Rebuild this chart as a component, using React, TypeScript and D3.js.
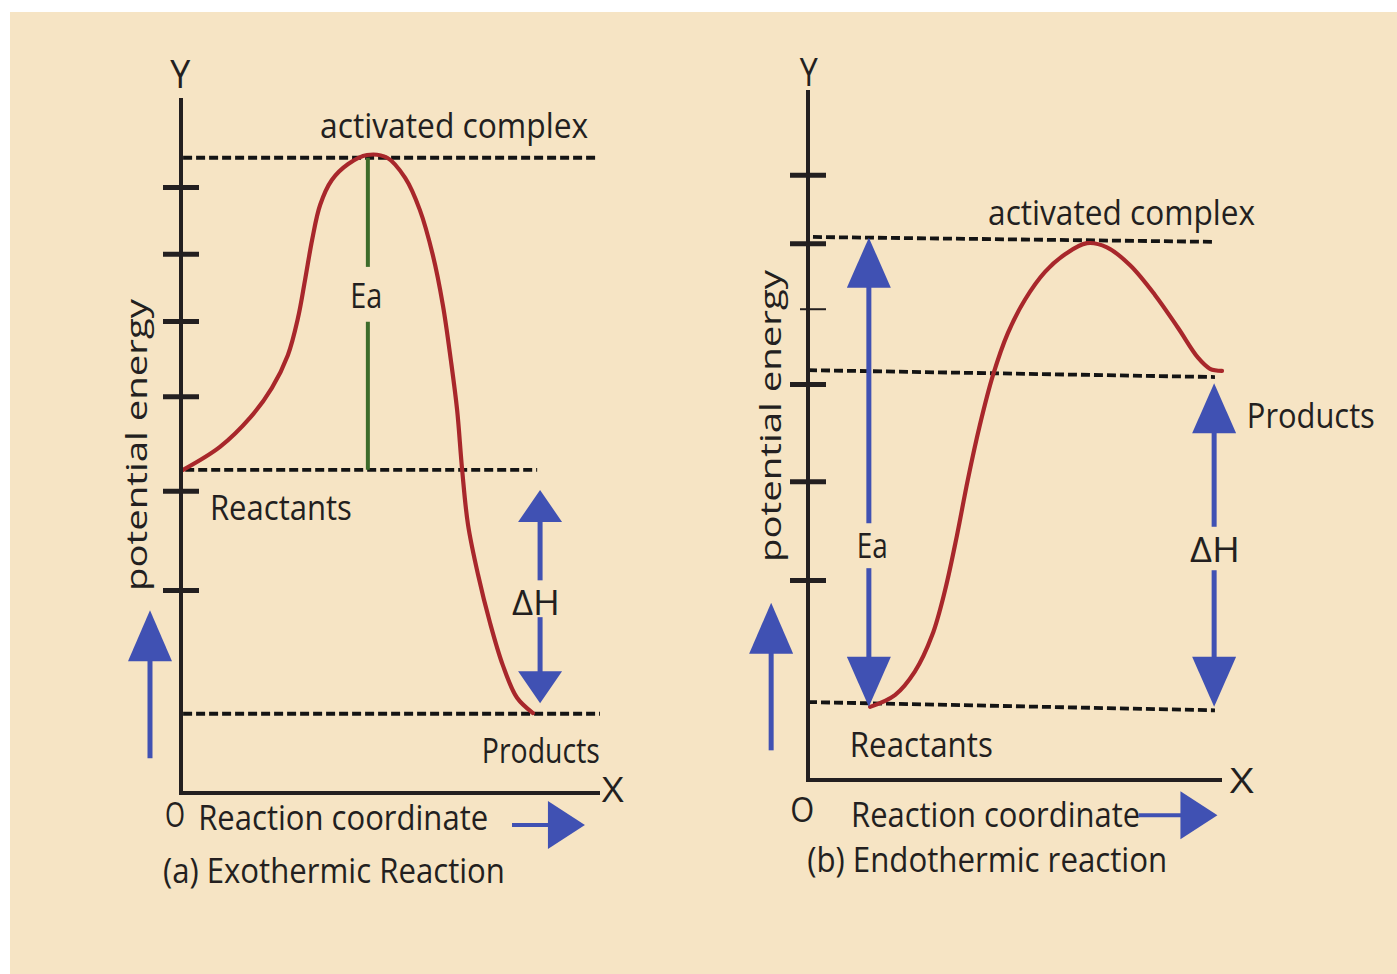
import React, { useRef, useEffect } from 'react';
import * as d3 from 'd3';

type Pt = [number, number];

// reaction coordinate (0-100) vs potential energy (0-100)
const exoCurve: Pt[] = [
  [0.5, 46.5], [9.3, 49.8], [16.5, 54.0], [21.7, 58.3], [25.5, 63.0], [27.9, 68.3],
  [29.6, 73.8], [31.3, 79.6], [33.2, 84.6], [36.0, 88.2], [39.9, 90.5], [44.4, 91.8],
  [49.2, 91.4], [53.5, 88.5], [57.0, 83.9], [60.1, 77.4], [62.5, 70.2], [64.4, 62.3],
  [65.9, 55.1], [67.1, 46.5], [68.5, 38.6], [70.9, 31.4], [73.7, 24.6], [76.8, 18.4],
  [80.2, 13.7], [84.0, 11.5],
];
const endoCurve: Pt[] = [
  [15.0, 10.6], [21.0, 12.3], [25.8, 15.7], [30.0, 21.0], [33.1, 27.5], [36.0, 35.5],
  [38.6, 43.5], [41.5, 51.4], [44.7, 58.7], [48.3, 64.8], [52.4, 69.6], [57.2, 73.6],
  [62.1, 76.2], [67.4, 77.8], [72.2, 77.2], [77.8, 74.6], [83.8, 70.3], [89.4, 65.5],
  [94.2, 61.2], [97.1, 59.6], [100, 59.3],
];

const exoTicks = [87.2, 77.6, 67.9, 57.1, 43.5, 29.2];
const endoTicks = [87.7, 77.8, 57.4, 43.3, 29.0];
const endoMinorTicks = [68.3];

// dashed energy levels: x start, x end, y start, y end
const exoLevels = [
  [0.5, 99.5, 91.4, 91.4], // activated complex
  [1, 85, 46.5, 46.5], // reactants
  [0.5, 100, 11.4, 11.4], // products
];
const endoLevels = [
  [1.2, 97.6, 78.7, 78.0],
  [0, 98.3, 59.4, 58.4],
  [0, 98.3, 11.3, 10.1],
];

// double headed arrows: x, top, bottom, gap top, gap bottom (label sits in the gap)
const exoArrows = [[85.7, 43.6, 12.9, 30.6, 25.3]];
const endoArrows = [
  [14.7, 78.6, 10.6, 37.2, 30.7],
  [98.1, 57.5, 10.6, 36.7, 30.4],
];
// green Ea line on the exothermic plot: x, top, bottom, gap top, gap bottom
const exoEa = [44.6, 91.4, 46.5, 75.7, 67.8];

// labels: text, x, y (data units), width in px, anchor
const exoLabels: [string, number, number, number, string][] = [
  ['activated complex', 33.2, 94.2, 268, 'start'],
  ['Ea', 44.2, 69.8, 32, 'middle'],
  ['Reactants', 6.9, 39.3, 142, 'start'],
  ['ΔH', 79.0, 25.6, 48, 'start'],
  ['Products', 71.8, 4.3, 118, 'start'],
  ['X', 100.4, -1.3, 22, 'start'],
  ['O', -3.8, -4.9, 20, 'start'],
  ['Reaction coordinate', 4.1, -5.3, 290, 'start'],
  ['(a) Exothermic Reaction', -4.3, -12.9, 342, 'start'],
  ['Y', -0.2, 101.4, 20, 'middle'],
];
const endoLabels: [string, number, number, number, string][] = [
  ['activated complex', 43.5, 80.4, 267, 'start'],
  ['Products', 106.0, 51.0, 128, 'start'],
  ['Ea', 11.8, 32.2, 31, 'start'],
  ['ΔH', 92.3, 31.6, 50, 'start'],
  ['Reactants', 10.1, 3.3, 143, 'start'],
  ['X', 101.9, -1.9, 24, 'start'],
  ['O', -4.3, -6.1, 24, 'start'],
  ['Reaction coordinate', 10.4, -6.8, 289, 'start'],
  ['(b) Endothermic reaction', -0.2, -13.3, 360, 'start'],
  ['Y', 0.2, 100.6, 18, 'middle'],
];

// blue direction arrows beside the axes: up arrow [x, tail, tip], right arrow [y, tail, tip]
const exoAxisArrows = { up: [-7.4, 5.0, 26.3], right: [-4.6, 79.0, 96.4] };
const endoAxisArrows = { up: [-8.9, 4.3, 25.7], right: [-5.1, 79.9, 98.9] };

const BG = '#f6e4c4';
const INK = '#231f20';
const RED = '#a8272b';
const GREEN = '#3d6b2a';
const BLUE = '#4051b3';
const FONT = '"Open Sans", "DejaVu Sans", sans-serif';

type G = d3.Selection<SVGGElement, unknown, null, undefined>;

function arrowHead(g: G, tipX: number, tipY: number, dx: number, dy: number, len: number, half: number) {
  // dx,dy is unit direction the arrow points to
  const bx = tipX - dx * len;
  const by = tipY - dy * len;
  const px = -dy * half;
  const py = dx * half;
  g.append('path')
    .attr('d', `M${tipX},${tipY}L${bx + px},${by + py}L${bx - px},${by - py}Z`)
    .attr('fill', BLUE);
}

function drawPanel(
  svg: d3.Selection<SVGSVGElement, unknown, null, undefined>,
  opt: {
    xRange: [number, number];
    yRange: [number, number];
    curve: Pt[];
    ticks: number[];
    minorTicks: number[];
    levels: number[][];
    arrows: number[][];
    head: number;
    ea: number[] | null;
    labels: [string, number, number, number, string][];
    axisArrows: { up: number[]; right: number[] };
    yLabel: [number, number];
  }
) {
  const x = d3.scaleLinear().domain([0, 100]).range(opt.xRange);
  const y = d3.scaleLinear().domain([0, 100]).range(opt.yRange);
  const g = svg.append('g');

  // dashed levels
  opt.levels.forEach(l => {
    g.append('line')
      .attr('x1', x(l[0])).attr('x2', x(l[1]))
      .attr('y1', y(l[2])).attr('y2', y(l[3]))
      .attr('stroke', '#141414')
      .attr('stroke-width', 3.8)
      .attr('stroke-dasharray', '9 4');
  });

  if (opt.ea) {
    const [ex, top, bot, gt, gb] = opt.ea;
    g.append('line').attr('x1', x(ex)).attr('x2', x(ex)).attr('y1', y(top)).attr('y2', y(gt))
      .attr('stroke', GREEN).attr('stroke-width', 4);
    g.append('line').attr('x1', x(ex)).attr('x2', x(ex)).attr('y1', y(gb)).attr('y2', y(bot))
      .attr('stroke', GREEN).attr('stroke-width', 4);
  }

  // energy curve
  const line = d3.line<Pt>().x(d => x(d[0])).y(d => y(d[1])).curve(d3.curveCatmullRom.alpha(0.5));
  g.append('path')
    .attr('d', line(opt.curve))
    .attr('fill', 'none')
    .attr('stroke', RED)
    .attr('stroke-width', 4.2)
    .attr('stroke-linecap', 'round')
    .attr('stroke-linejoin', 'round');

  // double arrows
  opt.arrows.forEach(a => {
    const [ax, top, bot, gt, gb] = a;
    const px = x(ax);
    g.append('line').attr('x1', px).attr('x2', px).attr('y1', y(top) + opt.head - 2).attr('y2', y(gt))
      .attr('stroke', BLUE).attr('stroke-width', 5);
    g.append('line').attr('x1', px).attr('x2', px).attr('y1', y(gb)).attr('y2', y(bot) - opt.head + 2)
      .attr('stroke', BLUE).attr('stroke-width', 5);
    arrowHead(g, px, y(top), 0, -1, opt.head, 22);
    arrowHead(g, px, y(bot), 0, 1, opt.head, 22);
  });

  // blue arrows beside axes
  const up = opt.axisArrows.up;
  g.append('line').attr('x1', x(up[0])).attr('x2', x(up[0])).attr('y1', y(up[1])).attr('y2', y(up[2]) + 48)
    .attr('stroke', BLUE).attr('stroke-width', 5);
  arrowHead(g, x(up[0]), y(up[2]), 0, -1, 51, 22);
  const rt = opt.axisArrows.right;
  g.append('line').attr('x1', x(rt[1])).attr('x2', x(rt[2]) - 34).attr('y1', y(rt[0])).attr('y2', y(rt[0]))
    .attr('stroke', BLUE).attr('stroke-width', 4);
  arrowHead(g, x(rt[2]), y(rt[0]), 1, 0, 37, 24);

  // axes
  g.append('line').attr('x1', x(0)).attr('x2', x(0)).attr('y1', y(0) + 2).attr('y2', y(100))
    .attr('stroke', INK).attr('stroke-width', 4);
  g.append('line').attr('x1', x(0)).attr('x2', x(100)).attr('y1', y(0)).attr('y2', y(0))
    .attr('stroke', INK).attr('stroke-width', 4);

  const tickAxis = d3.axisRight(y).tickValues(opt.ticks).tickSize(36).tickFormat(() => '');
  const ta = g.append('g').attr('transform', `translate(${x(0) - 18},0)`).call(tickAxis);
  ta.select('.domain').remove();
  ta.selectAll('line').attr('stroke', INK).attr('stroke-width', 5);

  if (opt.minorTicks.length) {
    const minor = d3.axisRight(y).tickValues(opt.minorTicks).tickSize(26).tickFormat(() => '');
    const ma = g.append('g').attr('transform', `translate(${x(0) - 8},0)`).call(minor);
    ma.select('.domain').remove();
    ma.selectAll('line').attr('stroke', INK).attr('stroke-width', 2);
  }

  // labels
  opt.labels.forEach(([t, lx, ly, w, anchor]) => {
    const big = t === 'Y';
    g.append('text')
      .attr('x', x(lx))
      .attr('y', y(ly))
      .attr('text-anchor', anchor)
      .attr('font-family', FONT)
      .attr('font-size', big ? 38 : 35)
      .attr('fill', INK)
      .attr('textLength', w)
      .attr('lengthAdjust', 'spacingAndGlyphs')
      .text(t);
  });

  g.append('text')
    .attr('transform', `translate(${opt.yLabel[0]},${opt.yLabel[1]}) rotate(-90)`)
    .attr('text-anchor', 'middle')
    .attr('font-family', FONT)
    .attr('font-size', 29)
    .attr('fill', INK)
    .attr('textLength', 292)
    .attr('lengthAdjust', 'spacingAndGlyphs')
    .text('potential energy');
}

export default function App() {
  const svgRef = useRef<SVGSVGElement>(null);
  const width = 1397;
  const height = 974;

  useEffect(() => {
    if (!svgRef.current) return;
    const svg = d3.select(svgRef.current);
    svg.selectAll('*').remove();

    svg.append('rect').attr('width', width).attr('height', height).attr('fill', '#ffffff');
    svg.append('rect').attr('x', 10).attr('y', 12).attr('width', width - 10).attr('height', height - 12)
      .attr('fill', BG);

    drawPanel(svg, {
      xRange: [181, 600],
      yRange: [793, 98],
      curve: exoCurve,
      ticks: exoTicks,
      minorTicks: [],
      levels: exoLevels,
      arrows: exoArrows,
      head: 32,
      ea: exoEa,
      labels: exoLabels,
      axisArrows: exoAxisArrows,
      yLabel: [147, 445],
    });

    drawPanel(svg, {
      xRange: [808, 1222],
      yRange: [780, 90],
      curve: endoCurve,
      ticks: endoTicks,
      minorTicks: endoMinorTicks,
      levels: endoLevels,
      arrows: endoArrows,
      head: 50,
      ea: null,
      labels: endoLabels,
      axisArrows: endoAxisArrows,
      yLabel: [781, 416],
    });
  }, []);

  return (
    <svg
      ref={svgRef}
      width={width}
      height={height}
      style={{ position: 'absolute', left: 0, top: 0, display: 'block' }}
    />
  );
}
